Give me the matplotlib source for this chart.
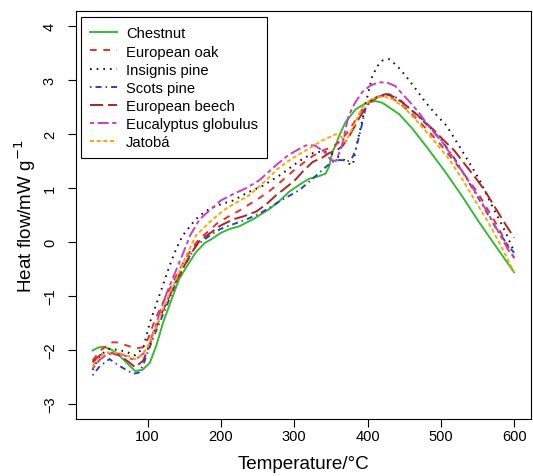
import matplotlib
matplotlib.use("Agg")
import matplotlib.pyplot as plt

plt.rcParams['font.family'] = ['Liberation Sans', 'DejaVu Sans']
plt.rcParams['lines.scale_dashes'] = False

# ---------------- data ----------------
series_names = ["Chestnut", "European oak", "Insignis pine", "Scots pine",
                "European beech", "Eucalyptus globulus", "Jatobá"]

t_chestnut = [25, 32, 40, 50, 60, 70, 83, 93, 103, 112, 121, 128, 143, 155, 166, 178, 188, 200,
              212, 225, 245, 266, 280, 293, 307, 320, 334, 343, 348, 352, 357, 361, 370, 384,
              395, 402, 411, 420, 429, 443, 460, 483, 506, 529, 552, 575, 600]
hf_chestnut = [-2.01, -1.96, -1.94, -1.99, -2.08, -2.22, -2.39, -2.37, -2.24, -1.92, -1.50, -1.24,
               -0.69, -0.42, -0.19, -0.02, 0.06, 0.17, 0.24, 0.29, 0.43, 0.61, 0.76, 0.93, 1.06,
               1.17, 1.22, 1.27, 1.41, 1.67, 1.80, 1.96, 2.22, 2.46, 2.55, 2.59, 2.61, 2.58,
               2.50, 2.37, 2.12, 1.72, 1.30, 0.85, 0.37, -0.08, -0.56]

t_oak = [25, 35, 50, 60, 72, 85, 94, 101, 110, 120, 130, 140, 150, 160, 170, 185, 196, 209,
         225, 239, 252, 266, 282, 298, 312, 325, 340, 352, 362, 372, 382, 392, 402, 412, 422,
         432, 445, 460, 480, 500, 525, 550, 575, 600]
hf_oak = [-2.20, -2.02, -1.86, -1.86, -1.92, -1.97, -1.95, -1.78, -1.45, -1.15, -0.88, -0.60,
          -0.35, -0.13, 0.05, 0.22, 0.36, 0.46, 0.58, 0.70, 0.81, 0.94, 1.12, 1.31, 1.46, 1.59,
          1.70, 1.76, 1.86, 2.02, 2.22, 2.44, 2.60, 2.69, 2.71, 2.68, 2.56, 2.38, 2.10, 1.80,
          1.38, 0.92, 0.35, -0.30]

t_insignis = [25, 35, 48, 60, 70, 83, 94, 103, 112, 121, 130, 139, 148, 162, 171, 184, 200, 217,
              237, 257, 282, 307, 326, 339, 350, 366, 375, 380, 386, 392, 398, 406, 413, 420,
              429, 440, 452, 465, 479, 493, 508, 529, 552, 570, 588, 600]
hf_insignis = [-2.37, -2.10, -1.98, -2.00, -2.03, -2.10, -1.97, -1.50, -1.15, -0.80, -0.44,
               -0.13, 0.12, 0.36, 0.49, 0.61, 0.70, 0.77, 0.92, 1.04, 1.25, 1.50, 1.65, 1.68,
               1.64, 1.54, 1.45, 1.43, 1.85, 2.20, 2.59, 3.05, 3.25, 3.36, 3.39, 3.27, 3.08,
               2.85, 2.59, 2.37, 2.15, 1.69, 1.17, 0.67, 0.19, -0.18]

t_scots = [25, 35, 48, 61, 72, 81, 88, 94, 100, 110, 120, 130, 139, 150, 166, 185, 199, 217,
           235, 252, 267, 282, 307, 325, 343, 352, 362, 375, 380, 384, 391, 398, 407, 416, 429,
           443, 461, 483, 500, 520, 538, 557, 576, 592, 600]
hf_scots = [-2.47, -2.30, -2.17, -2.29, -2.38, -2.44, -2.42, -2.28, -2.05, -1.70, -1.38, -1.05,
            -0.75, -0.45, -0.07, 0.12, 0.24, 0.33, 0.42, 0.52, 0.64, 0.77, 0.96, 1.17, 1.39,
            1.48, 1.52, 1.50, 1.58, 1.72, 2.09, 2.52, 2.62, 2.70, 2.74, 2.65, 2.43, 2.15, 1.90,
            1.52, 1.11, 0.68, 0.24, -0.07, -0.20]

t_beech = [25, 35, 43, 52, 61, 72, 83, 94, 100, 110, 120, 130, 140, 150, 160, 171, 184, 199,
           217, 232, 249, 262, 274, 287, 300, 312, 325, 339, 348, 357, 366, 375, 388, 402, 414,
           425, 436, 447, 458, 470, 482, 493, 502, 518, 534, 549, 561, 574, 587, 600]
hf_beech = [-2.23, -2.10, -2.05, -2.06, -2.10, -2.20, -2.32, -2.20, -2.00, -1.65, -1.30, -1.00,
            -0.70, -0.44, -0.20, 0.02, 0.15, 0.30, 0.42, 0.48, 0.57, 0.70, 0.85, 0.99, 1.13,
            1.31, 1.48, 1.57, 1.65, 1.69, 1.78, 1.96, 2.28, 2.59, 2.70, 2.74, 2.69, 2.59, 2.47,
            2.33, 2.18, 2.04, 1.91, 1.70, 1.42, 1.16, 0.93, 0.64, 0.35, 0.08]

t_eucalyptus = [25, 35, 43, 52, 61, 70, 78, 86, 94, 100, 110, 117, 126, 136, 149, 158, 171, 189,
                200, 217, 235, 252, 262, 275, 292, 305, 316, 328, 341, 350, 357, 365, 374, 383,
                393, 404, 416, 427, 438, 447, 456, 470, 483, 502, 518, 533, 547, 561, 574, 592,
                600]
hf_eucalyptus = [-2.35, -2.18, -2.10, -2.06, -2.07, -2.11, -2.17, -2.15, -2.07, -1.95, -1.60,
                 -1.30, -0.95, -0.62, -0.19, 0.12, 0.42, 0.64, 0.77, 0.89, 1.00, 1.14, 1.26,
                 1.42, 1.61, 1.71, 1.79, 1.79, 1.67, 1.52, 1.50, 1.78, 2.33, 2.58, 2.78, 2.90,
                 2.96, 2.95, 2.89, 2.75, 2.62, 2.40, 2.15, 1.85, 1.54, 1.23, 0.93, 0.61, 0.30,
                 -0.15, -0.28]

t_jatoba = [25, 35, 45, 55, 65, 75, 83, 92, 100, 110, 121, 130, 139, 153, 166, 184, 203, 217,
            237, 250, 266, 277, 292, 306, 320, 338, 351, 357, 363, 370, 381, 393, 406, 422, 435,
            447, 458, 470, 483, 493, 511, 529, 547, 565, 583, 600]
hf_jatoba = [-2.30, -2.12, -2.05, -2.05, -2.07, -2.12, -2.17, -2.10, -1.95, -1.65, -1.24, -0.95,
             -0.69, -0.25, 0.12, 0.36, 0.58, 0.70, 0.85, 1.00, 1.20, 1.35, 1.50, 1.62, 1.73,
             1.88, 1.96, 2.00, 1.96, 1.85, 2.15, 2.50, 2.65, 2.70, 2.64, 2.52, 2.38, 2.20, 2.00,
             1.84, 1.54, 1.17, 0.76, 0.36, -0.10, -0.56]

x_ticks = [100, 200, 300, 400, 500, 600]
y_ticks = [-3, -2, -1, 0, 1, 2, 3, 4]

# ---------------- styles ----------------
temps = [t_chestnut, t_oak, t_insignis, t_scots, t_beech, t_eucalyptus, t_jatoba]
flows = [hf_chestnut, hf_oak, hf_insignis, hf_scots, hf_beech, hf_eucalyptus, hf_jatoba]
colors = ['#33bb33', '#e8302a', '#111111', '#2a46b0', '#b22222', '#c43fc4', '#ffa500']
styles = ['-', (0, (4.8, 4.8)), (0, (1.2, 3.6)), (0, (1.1, 2.9, 4.3, 2.9)),
          (0, (9.5, 3.5)), (0, (3.0, 2.5, 8.0, 2.5)), (0, (2.9, 1.9))]

W, H = 533, 477
fig = plt.figure(figsize=(W / 100, H / 100), dpi=100)
ax = fig.add_axes([75.7 / W, 1 - 420 / H, (531 - 75.7) / W, (420 - 12) / H])

for t, v, name, c, ls in zip(temps, flows, series_names, colors, styles):
    ax.plot(t, v, color=c, linestyle=ls, linewidth=1.4, label=name)

ax.set_xlim(2, 623)
ax.set_ylim(-3.28, 4.28)
ax.set_xticks(x_ticks)
ax.set_yticks(y_ticks)
ax.set_xticklabels([str(x) for x in x_ticks])
ax.set_yticklabels([str(y).replace('-', '\u2212') for y in y_ticks])

ax.tick_params(axis='both', direction='out', length=5.5, width=0.8, labelsize=10.5, color='black')
ax.tick_params(axis='x', pad=1.8)
ax.tick_params(axis='y', pad=8, labelrotation=90)
for lab in ax.get_yticklabels():
    lab.set_va('center')

for s in ax.spines.values():
    s.set_linewidth(0.8)
    s.set_color('black')

ax.set_xlabel("Temperature/\u00b0C", fontsize=13.6)
ax.xaxis.set_label_coords(0.5, -0.089)
ax.set_ylabel("Heat flow/mW g$^{-1}$", fontsize=13.6)
ax.yaxis.set_label_coords(-0.083, 0.5)

leg = ax.legend(loc='upper left', bbox_to_anchor=(0.0116, 0.9846), borderaxespad=0,
                fontsize=10.6, frameon=True, fancybox=False, framealpha=1,
                edgecolor='black', handlelength=1.85, handletextpad=0.6,
                labelspacing=0.28, borderpad=0.62)
leg.get_frame().set_linewidth(0.8)

fig.savefig("out.png", dpi=100)
